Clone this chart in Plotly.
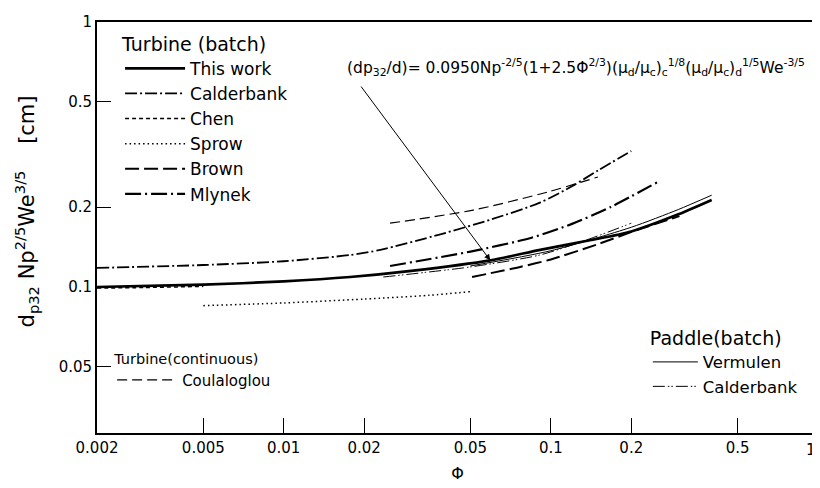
import plotly.graph_objects as go
import numpy as np

# ---- data ----
phi_this = [0.002, 0.005, 0.01, 0.0177, 0.03, 0.0593, 0.0912, 0.14, 0.2, 0.3, 0.4]
d_this = [0.100, 0.102, 0.105, 0.109, 0.115, 0.126, 0.138, 0.150, 0.162, 0.188, 0.213]

phi_calder = [0.002, 0.005, 0.01, 0.0177, 0.023, 0.0386, 0.06, 0.091, 0.12, 0.15, 0.2]
d_calder = [0.118, 0.121, 0.125, 0.132, 0.138, 0.158, 0.180, 0.208, 0.240, 0.275, 0.326]

phi_chen = [0.002, 0.003, 0.005]
d_chen = [0.099, 0.0995, 0.1005]

phi_sprow = [0.005, 0.01, 0.02, 0.035, 0.05]
d_sprow = [0.085, 0.087, 0.090, 0.093, 0.096]

phi_brown = [0.0507, 0.0767, 0.1, 0.15, 0.21, 0.303]
d_brown = [0.109, 0.119, 0.127, 0.145, 0.164, 0.185]

phi_mlynek = [0.025, 0.05, 0.084, 0.12, 0.167, 0.255]
d_mlynek = [0.120, 0.136, 0.153, 0.173, 0.200, 0.251]

phi_coul = [0.025, 0.0512, 0.097, 0.15]
d_coul = [0.174, 0.195, 0.228, 0.26]

phi_verm = [0.05, 0.1, 0.2, 0.3, 0.4]
d_verm = [0.120, 0.137, 0.168, 0.196, 0.222]

phi_calp = [0.0236, 0.05, 0.091, 0.14, 0.2]
d_calp = [0.109, 0.119, 0.132, 0.152, 0.174]

x_ticks = [0.002, 0.005, 0.01, 0.02, 0.05, 0.1, 0.2, 0.5, 1]
x_ticktext = ["0.002", "0.005", "0.01", "0.02", "0.05", "0.1", "0.2", "0.5", ""]
x_last_label = "1"
y_ticks = [0.05, 0.1, 0.2, 0.5, 1]
y_ticktext = ["0.05", "0.1", "0.2", "0.5", "1"]

arrow_tip_phi = 0.0593
arrow_tail = (0.0193, 0.578)

FONT = "DejaVu Sans"
fig = go.Figure()

def add(x, y, name, dash, width, legend="legend"):
    fig.add_trace(go.Scatter(x=x, y=y, mode="lines", name=name, legend=legend,
                             line=dict(color="black", width=width, dash=dash,
                                       shape="spline", smoothing=0.7)))

add(phi_this, d_this, "This work", "solid", 2.6)
add(phi_calder, d_calder, "Calderbank", "12px,3px,2px,3px", 1.8)
add(phi_chen, d_chen, "Chen", "4px,3px", 1.5)
add(phi_sprow, d_sprow, "Sprow", "1.5px,3px", 1.5)
add(phi_brown, d_brown, "Brown", "14px,5px", 2.0)
add(phi_mlynek, d_mlynek, "Mlynek", "16px,4px,2px,4px", 2.2)
add(phi_coul, d_coul, "Coulaloglou", "10px,5px", 1.2, "legend2")
add(phi_verm, d_verm, "Vermulen", "solid", 1.0, "legend3")
add(phi_calp, d_calp, "Calderbank", "12px,3px,1.5px,2px,1.5px,3px", 1.0, "legend3")

# arrow tip on "This work" curve (log-log interpolation)
tip_y = 10 ** np.interp(np.log10(arrow_tip_phi), np.log10(phi_this), np.log10(d_this))
fig.add_annotation(x=np.log10(arrow_tip_phi), y=np.log10(tip_y), xref="x", yref="y",
                   ax=np.log10(arrow_tail[0]), ay=np.log10(arrow_tail[1]), axref="x", ayref="y",
                   text="", showarrow=True, arrowhead=2, arrowsize=1.2, arrowwidth=1, arrowcolor="black")

fig.add_annotation(xref="paper", yref="paper", x=0.344, y=0.89, xanchor="left", yanchor="middle",
                   showarrow=False, font=dict(size=15.5, color="black", family=FONT),
                   text="(dp<sub>32</sub>/d)= 0.0950Np<sup>-2/5</sup>(1+2.5\u03a6<sup>2/3</sup>)"
                        "(\u03bc<sub>d</sub>/\u03bc<sub>c</sub>)<sub>c</sub><sup>1/8</sup>"
                        "(\u03bc<sub>d</sub>/\u03bc<sub>c</sub>)<sub>d</sub><sup>1/5</sup>We<sup>-3/5</sup>")

fig.add_annotation(xref="paper", yref="paper", x=-0.098, y=0.54, xanchor="center", yanchor="middle",
                   textangle=-90, showarrow=False, font=dict(size=21, color="black", family=FONT),
                   text="d<sub>p32</sub> Np<sup>2/5</sup>We<sup>3/5</sup>    [cm]")

# last x tick label, right-aligned at the plot's corner
fig.add_annotation(xref="paper", yref="paper", x=1.0, y=0, xanchor="right", yanchor="top",
                   yshift=-6, showarrow=False, text=x_last_label,
                   font=dict(size=15, color="black", family=FONT))

def legend_cfg(x, y, title, size, tsize, iw):
    return dict(bgcolor="rgba(0,0,0,0)", borderwidth=0, xanchor="left", yanchor="top",
                itemwidth=iw, font=dict(size=size, color="black", family=FONT),
                tracegroupgap=0, itemclick=False, x=x, y=y,
                title=dict(text=title, font=dict(size=tsize, color="black", family=FONT)))

# page body has an 8px default margin: compensate so the plot area sits at x 97-818, y 22-433
fig.update_layout(
    width=812, height=480,
    margin=dict(l=89, r=2, t=14, b=55),
    paper_bgcolor="white", plot_bgcolor="white",
    font=dict(family=FONT, size=15, color="black"),
    legend=legend_cfg(0.032, 0.99, "Turbine (batch)", 17, 19, 60),
    legend2=legend_cfg(0.021, 0.2145, "Turbine(continuous)", 15, 14.5, 60),
    legend3=legend_cfg(0.764, 0.275, "Paddle(batch)", 16.5, 19, 45),
    xaxis=dict(type="log", range=[np.log10(0.002), 0], tickvals=x_ticks, ticktext=x_ticktext,
               ticks="inside", ticklen=15, tickwidth=1.2, tickcolor="black",
               automargin=False,
               showline=True, linecolor="black", linewidth=1.8, mirror=True,
               showgrid=False, zeroline=False,
               title=dict(text="\u03a6", font=dict(size=16), standoff=12)),
    yaxis=dict(type="log", range=[np.log10(0.0281), 0], tickvals=y_ticks, ticktext=y_ticktext,
               ticks="inside", ticklen=14, tickwidth=1.2, tickcolor="black",
               ticklabeloverflow="allow", automargin=False,
               showline=True, linecolor="black", linewidth=1.8, mirror=True,
               showgrid=False, zeroline=False),
)

fig.write_html("out.html")
